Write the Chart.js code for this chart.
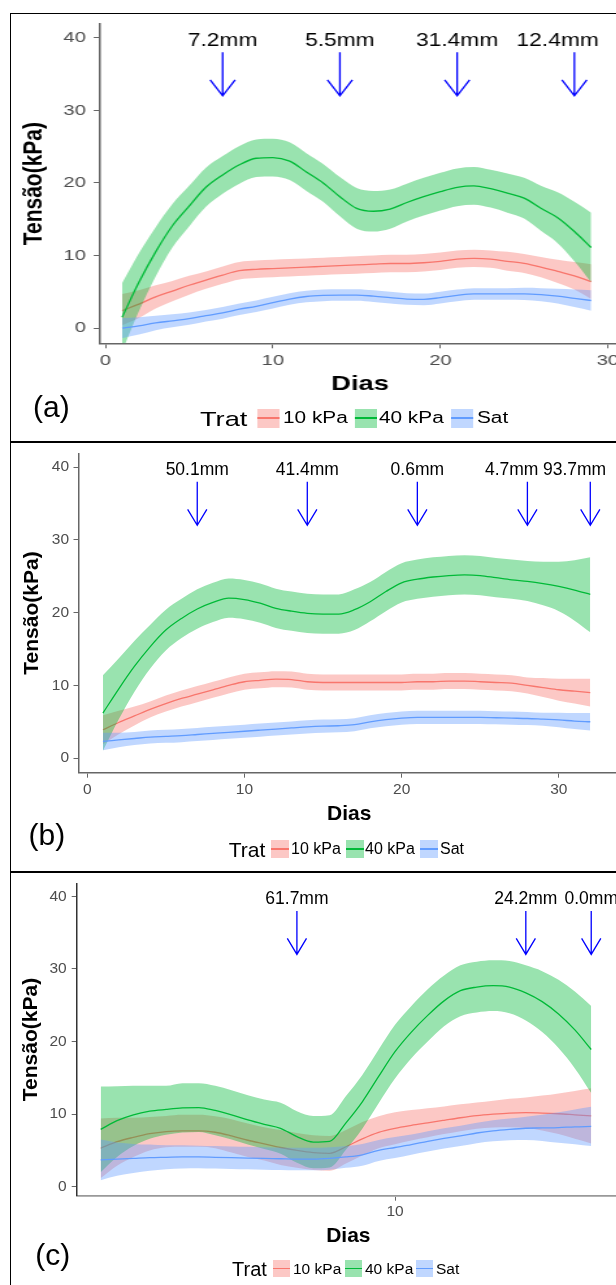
<!DOCTYPE html>
<html>
<head>
<meta charset="utf-8">
<script src="https://cdn.jsdelivr.net/npm/chart.js@4.4.1/dist/chart.umd.min.js"></script>
<style>
html,body{margin:0;padding:0;background:#fff}
body{width:616px;height:1285px;overflow:hidden;position:relative;font-family:'Liberation Sans',Arial,sans-serif}
.rule{position:absolute;background:#000}
.tag{position:absolute;font-size:30px;line-height:30px;color:#000;white-space:nowrap}
.lg{position:absolute;white-space:nowrap;color:#000}
.key{position:absolute}
.key i{position:absolute;left:0;right:0;top:50%;height:1.3px;margin-top:-0.65px}
canvas{position:absolute;left:0}
#wrapA{position:absolute;left:0;top:0;width:480px;height:441px;transform:scaleX(1.3);transform-origin:0 0}
</style>
</head>
<body>
<div class="rule" style="left:9.5px;top:12.5px;width:620px;height:1.5px"></div>
<div class="rule" style="left:9.5px;top:12.5px;width:1.5px;height:1300px"></div>
<div class="rule" style="left:9.5px;top:441px;width:620px;height:1.5px"></div>
<div class="rule" style="left:9.5px;top:871.3px;width:620px;height:1.5px"></div>

<div id="wrapA"><canvas id="ca" width="477" height="387" style="top:13px"></canvas></div>
<canvas id="cb" width="620" height="388" style="top:442px"></canvas>
<canvas id="cc" width="620" height="378" style="top:872px"></canvas>

<div class="tag" style="left:33px;top:391.6px">(a)</div>
<div class="tag" style="left:28.6px;top:820px">(b)</div>
<div class="tag" style="left:35.3px;top:1240px">(c)</div>

<script>
const FONT = "'Liberation Sans', Arial, sans-serif";

// Treatments (legend "Trat")
const treatments = ['10 kPa', '40 kPa', 'Sat'];
const lineColors = ['#F8766D', '#00BA38', '#619CFF'];
const ribbonColors = ['rgba(248,118,109,0.4)', 'rgba(0,186,56,0.4)', 'rgba(97,156,255,0.4)'];
const yTicks = [0, 10, 20, 30, 40];

// ---- (a) ----
const daysA = [1,2,3,4,5,6,7,8,9,10,11,12,13,14,15,16,17,18,19,20,21,22,23,24,25,26,27,28,29];
const a10   = [2.4,3.3,4.3,5.1,5.9,6.6,7.3,7.9,8.1,8.2,8.3,8.4,8.5,8.6,8.7,8.8,8.9,8.9,9.0,9.2,9.5,9.6,9.5,9.2,8.9,8.4,7.8,7.2,6.4];
const a10Lo = [0.4,1.4,2.7,3.7,4.6,5.4,6.1,6.7,6.9,7.0,7.1,7.2,7.3,7.4,7.5,7.6,7.7,7.7,7.8,8.0,8.3,8.4,8.3,7.9,7.6,7.0,6.2,5.3,4.0];
const a10Hi = [4.7,5.2,5.9,6.5,7.2,7.8,8.5,9.1,9.3,9.4,9.5,9.6,9.7,9.8,9.9,10.0,10.1,10.1,10.2,10.4,10.7,10.8,10.7,10.5,10.2,9.8,9.4,9.1,8.8];
const a40   = [1.5,6.3,10.5,14.1,16.8,19.4,21.1,22.5,23.4,23.5,23.0,21.5,20.0,18.1,16.5,16.1,16.4,17.3,18.1,18.8,19.4,19.6,19.2,18.6,17.9,16.5,15.2,13.3,11.1];
const a40Lo = [-3.2,2.3,7.1,11.1,14.0,16.7,18.5,19.9,20.8,20.9,20.4,18.9,17.4,15.4,13.7,13.3,13.7,14.7,15.5,16.2,16.8,17.0,16.6,15.9,15.1,13.4,11.7,9.2,6.3];
const a40Hi = [6.2,10.3,13.9,17.1,19.6,22.1,23.7,25.1,26.0,26.1,25.6,24.1,22.6,20.8,19.3,18.9,19.1,19.9,20.7,21.4,22.0,22.2,21.8,21.3,20.7,19.6,18.7,17.4,15.9];
const aSat   = [0.0,0.3,0.7,1.0,1.3,1.7,2.1,2.6,3.0,3.5,4.0,4.35,4.5,4.55,4.55,4.4,4.2,4.0,3.95,4.2,4.5,4.7,4.7,4.7,4.7,4.6,4.4,4.1,3.8];
const aSatLo = [-1.4,-0.9,-0.3,0.1,0.45,0.9,1.3,1.8,2.2,2.7,3.2,3.55,3.7,3.75,3.75,3.6,3.4,3.2,3.15,3.4,3.7,3.9,3.9,3.9,3.85,3.7,3.4,2.9,2.4];
const aSatHi = [1.4,1.5,1.7,1.9,2.15,2.5,2.9,3.4,3.8,4.3,4.8,5.15,5.3,5.35,5.35,5.2,5.0,4.8,4.75,5.0,5.3,5.5,5.5,5.5,5.55,5.5,5.4,5.3,5.2];
const rainA = ['7.2mm', '5.5mm', '31.4mm', '12.4mm'];
const rainDayA = [7, 14, 21, 28];
const rainLabelDayA = [7, 14, 21, 27];
const xTicksA = [0, 10, 20, 30];

// ---- (b) ----
const daysB = [1,2,3,4,5,6,7,8,9,10,11,12,13,14,15,16,17,18,19,20,21,22,23,24,25,26,27,28,29,30,31,32];
const b10   = [3.9,4.9,5.8,6.7,7.5,8.2,8.8,9.4,10.0,10.5,10.7,10.85,10.8,10.5,10.4,10.4,10.4,10.4,10.4,10.4,10.5,10.5,10.6,10.6,10.5,10.4,10.3,10.0,9.7,9.4,9.2,9.0];
const b10Lo = [1.9,3.3,4.5,5.6,6.4,7.1,7.7,8.3,8.9,9.4,9.6,9.75,9.7,9.4,9.3,9.3,9.3,9.3,9.3,9.3,9.4,9.4,9.5,9.5,9.4,9.3,9.2,8.9,8.4,7.9,7.5,7.1];
const b10Hi = [5.9,6.5,7.1,7.8,8.6,9.3,9.9,10.5,11.1,11.6,11.8,11.95,11.9,11.6,11.5,11.5,11.5,11.5,11.5,11.5,11.6,11.6,11.7,11.7,11.6,11.5,11.4,11.1,11.0,10.9,10.9,10.9];
const b40   = [6.2,9.5,12.6,15.3,17.6,19.2,20.5,21.4,22.0,21.8,21.3,20.6,20.2,19.9,19.8,19.8,20.4,21.5,22.9,24.1,24.6,24.9,25.1,25.2,25.1,24.8,24.5,24.3,24.0,23.6,23.1,22.5];
const b40Lo = [1.0,5.3,9.1,12.3,14.8,16.5,17.8,18.7,19.3,19.1,18.6,17.9,17.5,17.2,17.1,17.1,17.6,18.8,20.2,21.4,21.9,22.2,22.4,22.5,22.4,22.1,21.9,21.6,21.0,20.2,18.9,17.3];
const b40Hi = [11.4,13.7,16.1,18.3,20.4,21.9,23.2,24.1,24.7,24.5,24.0,23.3,22.9,22.6,22.5,22.5,23.2,24.2,25.6,26.8,27.3,27.6,27.8,27.9,27.8,27.5,27.3,27.1,27.0,27.0,27.2,27.6];
const bSat   = [2.3,2.5,2.7,2.9,3.0,3.1,3.25,3.4,3.55,3.7,3.85,4.0,4.15,4.3,4.4,4.45,4.6,5.0,5.3,5.5,5.6,5.6,5.6,5.6,5.6,5.55,5.5,5.45,5.35,5.25,5.1,5.0];
const bSatLo = [1.1,1.5,1.8,2.0,2.1,2.2,2.35,2.5,2.65,2.8,2.95,3.1,3.25,3.4,3.5,3.55,3.7,4.1,4.4,4.6,4.7,4.7,4.7,4.7,4.7,4.65,4.6,4.55,4.45,4.25,4.0,3.8];
const bSatHi = [3.5,3.5,3.6,3.8,3.9,4.0,4.15,4.3,4.45,4.6,4.75,4.9,5.05,5.2,5.3,5.35,5.5,5.9,6.2,6.4,6.5,6.5,6.5,6.5,6.5,6.45,6.4,6.35,6.25,6.25,6.2,6.2];
const rainB = ['50.1mm', '41.4mm', '0.6mm', '4.7mm', '93.7mm'];
const rainDayB = [7, 14, 21, 28, 32];
const rainLabelDayB = [7, 14, 21, 27, 31];
const xTicksB = [0, 10, 20, 30];

// ---- (c) ----
const daysC = [1,1.5,2,2.5,3,3.5,4,4.5,5,5.5,6,6.5,7,7.5,8,8.5,9,9.5,10,10.5,11,11.5,12,12.5,13,13.5,14,14.5,15,15.5,16];
const c10   = [5.3,6.2,6.8,7.3,7.6,7.7,7.7,7.5,7.0,6.4,5.9,5.4,5.0,4.7,4.6,5.5,6.6,7.5,8.05,8.45,8.8,9.15,9.5,9.8,10.0,10.15,10.2,10.15,10.05,9.9,9.75];
const c10Lo = [1.2,2.9,4.1,5.0,5.45,5.5,5.5,5.3,4.7,4.1,3.6,3.0,2.6,2.3,2.2,3.2,4.3,5.3,5.85,6.35,6.8,7.25,7.65,8.0,8.15,8.2,8.1,7.75,7.25,6.6,5.95];
const c10Hi = [9.4,9.5,9.5,9.6,9.75,9.9,9.9,9.7,9.3,8.7,8.2,7.8,7.4,7.1,7.0,7.8,8.9,9.7,10.25,10.55,10.8,11.05,11.35,11.6,11.85,12.1,12.3,12.55,12.85,13.2,13.55];
const c40   = [7.9,9.1,9.9,10.4,10.65,10.85,10.9,10.5,9.9,9.2,8.6,8.05,6.9,6.15,6.25,8.8,11.7,15.2,18.6,21.3,23.6,25.6,27.0,27.5,27.7,27.5,26.7,25.5,23.8,21.6,18.9];
const c40Lo = [2.0,4.1,5.6,6.6,7.15,7.45,7.55,7.1,6.5,5.8,5.2,4.55,3.3,2.55,2.65,5.1,8.0,11.5,14.9,17.7,20.0,22.1,23.5,24.0,24.2,23.9,22.9,21.3,19.1,16.3,12.9];
const c40Hi = [13.8,13.85,13.9,13.9,13.9,14.25,14.25,13.9,13.3,12.6,12.0,11.55,10.4,9.75,9.85,12.5,15.4,18.9,22.3,24.9,27.2,29.1,30.5,31.0,31.2,31.1,30.5,29.7,28.5,26.9,24.9];
const cSat   = [3.7,3.8,3.9,4.0,4.05,4.1,4.1,4.05,4.0,3.95,3.9,3.85,3.8,3.8,3.9,4.1,4.4,5.0,5.4,5.8,6.25,6.65,7.0,7.4,7.7,7.9,8.05,8.1,8.15,8.25,8.3];
const cSatLo = [0.9,1.5,1.9,2.2,2.4,2.5,2.55,2.5,2.45,2.4,2.35,2.3,2.25,2.25,2.35,2.6,2.9,3.55,3.95,4.4,4.85,5.25,5.6,6.0,6.25,6.4,6.45,6.3,6.05,5.85,5.6];
const cSatHi = [6.5,6.1,5.9,5.8,5.7,5.7,5.65,5.6,5.55,5.5,5.45,5.4,5.35,5.35,5.45,5.6,5.9,6.45,6.85,7.2,7.65,8.05,8.4,8.8,9.15,9.4,9.65,9.9,10.25,10.65,11.0];
const rainC = ['61.7mm', '24.2mm', '0.0mm'];
const rainDayC = [7, 14, 16];
const rainLabelDayC = [7, 14, 16];
const xTicksC = [10];

// Rain events: blue down arrows with the rainfall amount above them
const rainArrows = {
  id: 'rainArrows',
  afterDatasetsDraw(chart, args, opts) {
    const ctx = chart.ctx;
    const xs = chart.scales.x, ys = chart.scales.y;
    const top = ys.getPixelForValue(38.0);
    const tip = ys.getPixelForValue(32.0);
    const textY = ys.getPixelForValue(38.9);
    ctx.save();
    ctx.font = '17.5px ' + FONT;
    ctx.fillStyle = '#000';
    ctx.textAlign = 'center';
    ctx.textBaseline = 'alphabetic';
    ctx.strokeStyle = '#0000ff';
    ctx.lineWidth = 1.3;
    opts.labels.forEach((t, i) => {
      ctx.fillText(t, xs.getPixelForValue(opts.labelDays[i]), textY);
      const px = xs.getPixelForValue(opts.days[i]);
      ctx.beginPath();
      ctx.moveTo(px, top);
      ctx.lineTo(px, tip);
      ctx.moveTo(px - 9.6, tip - 16);
      ctx.lineTo(px, tip);
      ctx.lineTo(px + 9.6, tip - 16);
      ctx.stroke();
    });
    ctx.restore();
  }
};

function seriesDatasets(days, lines, los, his) {
  const pts = arr => days.map((d, i) => ({x: d, y: arr[i]}));
  const out = [];
  lines.forEach((ln, k) => {
    const base = 60 - k * 20;
    out.push({data: pts(his[k]), borderWidth: 0, borderColor: 'transparent', pointRadius: 0,
      backgroundColor: ribbonColors[k], fill: '+1', cubicInterpolationMode: 'monotone', order: base});
    out.push({data: pts(los[k]), borderWidth: 0, borderColor: 'transparent', pointRadius: 0,
      fill: false, cubicInterpolationMode: 'monotone', order: base - 1});
    out.push({label: treatments[k], data: pts(ln), borderColor: lineColors[k], borderWidth: 1.3,
      pointRadius: 0, fill: false, cubicInterpolationMode: 'monotone', order: base - 10});
  });
  return out;
}

function drawPanel(p) {
  new Chart(document.getElementById(p.canvas), {
    type: 'line',
    data: {datasets: seriesDatasets(p.days, p.lines, p.los, p.his)},
    plugins: [rainArrows],
    options: {
      responsive: false,
      animation: false,
      events: [],
      devicePixelRatio: 1,
      layout: {padding: {left: 0, right: 0, top: p.padTop, bottom: 0}},
      plugins: {
        legend: {display: false},
        tooltip: {enabled: false},
        rainArrows: {labels: p.rain, days: p.rainDays, labelDays: p.rainLabelDays}
      },
      scales: {
        x: {
          type: 'linear', min: p.xMin, max: p.xMax,
          afterBuildTicks: s => { s.ticks = p.xTicks.map(v => ({value: v})); },
          afterFit: s => { s.height = p.xAxisH; s.paddingLeft = 0; s.paddingRight = 0; },
          grid: {display: true, drawOnChartArea: false, drawTicks: true, tickLength: 5, tickColor: '#666', tickWidth: 1},
          border: {display: true, color: p.xAxisColor, width: p.xAxisWidth},
          ticks: {color: '#4d4d4d', font: {family: FONT, size: 15.5}, padding: p.xTickPad,
                  maxRotation: 0, autoSkip: false, callback: v => String(v)},
          title: {display: true, text: 'Dias', color: '#000',
                  font: {family: FONT, size: 21, weight: 'bold'}, padding: {top: 0, bottom: p.xTitlePad}}
        },
        y: {
          type: 'linear', min: p.yMin, max: p.yMax,
          afterBuildTicks: s => { s.ticks = yTicks.map(v => ({value: v})); },
          afterFit: s => { s.width = p.yAxisW; s.paddingTop = 0; s.paddingBottom = 0; },
          grid: {display: true, drawOnChartArea: false, drawTicks: true, tickLength: 5, tickColor: '#666', tickWidth: 1},
          border: {display: true, color: p.yAxisColor, width: 1.5},
          ticks: {color: '#4d4d4d', font: {family: FONT, size: 15.5}, padding: p.yTickPad,
                  autoSkip: false, callback: v => String(v)},
          title: {display: true, text: 'Tensão(kPa)', color: '#000',
                  font: {family: FONT, size: 21, weight: 'bold'}, padding: {top: p.yTitlePad, bottom: 0}}
        }
      }
    }
  });
}

drawPanel({canvas: 'ca', days: daysA, lines: [a10, a40, aSat], los: [a10Lo, a40Lo, aSatLo], his: [a10Hi, a40Hi, aSatHi],
  rain: rainA, rainDays: rainDayA, rainLabelDays: rainLabelDayA, xTicks: xTicksA,
  xMin: -0.31, xMax: 30.73, yMin: -2.1, yMax: 41.9, padTop: 11, yAxisW: 77.08, xAxisH: 56.7,
  yTitlePad: 13.8, xTitlePad: 3.6, yTickPad: 6, xTickPad: 3, yAxisColor: '#666', xAxisColor: '#666', xAxisWidth: 1.5});

drawPanel({canvas: 'cb', days: daysB, lines: [b10, b40, bSat], los: [b10Lo, b40Lo, bSatLo], his: [b10Hi, b40Hi, bSatHi],
  rain: rainB, rainDays: rainDayB, rainLabelDays: rainLabelDayB, xTicks: xTicksB,
  xMin: -0.553, xMax: 33.89, yMin: -2.0, yMax: 41.9, padTop: 11.3, yAxisW: 78.5, xAxisH: 57.3,
  yTitlePad: 19.9, xTitlePad: 2.7, yTickPad: 4.5, xTickPad: 3.2, yAxisColor: '#666', xAxisColor: '#666', xAxisWidth: 1.5});

drawPanel({canvas: 'cc', days: daysC, lines: [c10, c40, cSat], los: [c10Lo, c40Lo, cSatLo], his: [c10Hi, c40Hi, cSatHi],
  rain: rainC, rainDays: rainDayC, rainLabelDays: rainLabelDayC, xTicks: xTicksC,
  xMin: 0.266, xMax: 16.88, yMin: -1.24, yMax: 41.8, padTop: 11.3, yAxisW: 76.7, xAxisH: 54.3,
  yTitlePad: 18.9, xTitlePad: 0.7, yTickPad: 5, xTickPad: 1.5, yAxisColor: '#333', xAxisColor: '#999', xAxisWidth: 1.8});

// Legends: "Trat" followed by a key (ribbon patch with line) and label per treatment
function legend(parent, cy, trat, keys, texts, keyW, keyH, tratSize, textSize) {
  const add = (html, style) => {
    const d = document.createElement('div');
    d.className = 'lg';
    Object.assign(d.style, style);
    d.innerHTML = html;
    parent.appendChild(d);
    return d;
  };
  add('Trat', {left: trat + 'px', top: (cy - tratSize / 2) + 'px', fontSize: tratSize + 'px', lineHeight: tratSize + 'px'});
  treatments.forEach((name, k) => {
    const key = document.createElement('div');
    key.className = 'key';
    Object.assign(key.style, {left: keys[k] + 'px', top: (cy - keyH / 2) + 'px', width: keyW + 'px', height: keyH + 'px',
      background: ribbonColors[k]});
    const ln = document.createElement('i');
    ln.style.background = lineColors[k];
    key.appendChild(ln);
    parent.appendChild(key);
    add(name, {left: texts[k] + 'px', top: (cy - textSize / 2) + 'px', fontSize: textSize + 'px', lineHeight: textSize + 'px'});
  });
}
legend(document.getElementById('wrapA'), 418, 153.8, [197.7, 273, 346.9], [217.7, 291.5, 366.9], 17, 19, 21, 16);
legend(document.body, 849, 228.7, [271, 346, 420], [291, 365, 440], 18, 18, 21, 16);
legend(document.body, 1268.5, 232, [273, 345, 416], [293, 365, 436], 17, 17, 20, 15.5);
</script>
</body>
</html>
